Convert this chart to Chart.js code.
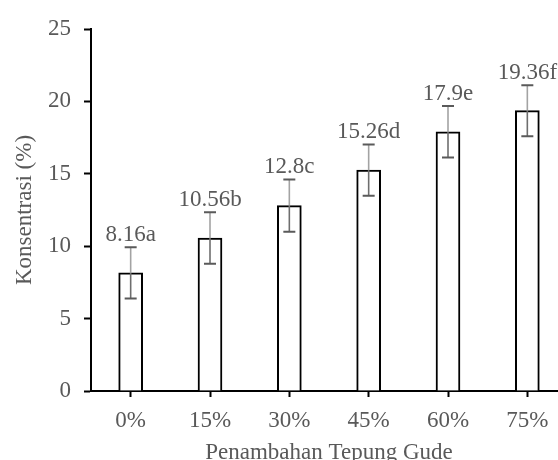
<!DOCTYPE html>
<html>
<head>
<meta charset="utf-8">
<script src="https://cdn.jsdelivr.net/npm/chart.js@4.4.1/dist/chart.umd.min.js"></script>
<style>
  html, body { margin: 0; padding: 0; background: #fff; overflow: hidden; width: 558px; height: 460px; }
  #wrap { width: 568px; height: 467px; }
</style>
</head>
<body>
<div id="wrap"><canvas id="c" width="568" height="467"></canvas></div>
<script>
// Gude flour addition levels and measured concentration
const categories = ['0%', '15%', '30%', '45%', '60%', '75%'];
const concentration = [8.16, 10.56, 12.8, 15.26, 17.9, 19.36];
const stdError = [1.77, 1.78, 1.80, 1.77, 1.78, 1.76];
const letters = ['a', 'b', 'c', 'd', 'e', 'f'];
const yTicks = [0, 5, 10, 15, 20, 25];

const FONT = 'Liberation Serif, Times New Roman, serif';
const TEXT = '#595959';

// Error bars (with caps) plus value/letter labels above each bar
const errorBarPlugin = {
  id: 'errorBars',
  afterDatasetsDraw(chart) {
    const ctx = chart.ctx;
    const meta = chart.getDatasetMeta(0);
    const y = chart.scales.y;
    ctx.save();
    meta.data.forEach((bar, i) => {
      const v = concentration[i];
      const e = stdError[i];
      const x = bar.x;
      const yTop = y.getPixelForValue(v + e);
      const yBot = y.getPixelForValue(v - e);
      const yVal = y.getPixelForValue(v);
      ctx.lineWidth = 1.6;
      ctx.strokeStyle = '#a3a3a3';
      ctx.beginPath(); ctx.moveTo(x, yTop); ctx.lineTo(x, yVal); ctx.stroke();
      ctx.strokeStyle = '#6e6e6e';
      ctx.beginPath(); ctx.moveTo(x, yVal); ctx.lineTo(x, yBot); ctx.stroke();
      ctx.lineWidth = 2;
      ctx.strokeStyle = '#5a5a5a';
      ctx.beginPath();
      ctx.moveTo(x - 6, yTop); ctx.lineTo(x + 6, yTop);
      ctx.moveTo(x - 6, yBot); ctx.lineTo(x + 6, yBot);
      ctx.stroke();

      ctx.fillStyle = TEXT;
      ctx.font = '23px ' + FONT;
      ctx.textAlign = 'center';
      ctx.textBaseline = 'bottom';
      ctx.fillText(String(v) + letters[i], x, yTop - 1);
    });
    ctx.restore();
  }
};

new Chart(document.getElementById('c'), {
  type: 'bar',
  data: {
    labels: categories,
    datasets: [{
      data: concentration,
      backgroundColor: '#ffffff',
      borderColor: '#000000',
      borderWidth: 2,
      barThickness: 24
    }]
  },
  options: {
    responsive: false,
    animation: false,
    devicePixelRatio: 1,
    layout: { padding: { top: 29, right: 1, left: 0, bottom: 0 } },
    plugins: { legend: { display: false }, tooltip: { enabled: false } },
    scales: {
      x: {
        offset: true,
        afterFit(s) { s.height = 76; },
        grid: { display: true, drawOnChartArea: false, drawTicks: true, tickLength: 6, tickWidth: 2, tickColor: '#000', offset: false },
        border: { color: '#000', width: 2 },
        ticks: { color: TEXT, font: { family: FONT, size: 23 }, padding: 10 },
        title: { display: true, text: 'Penambahan Tepung Gude', color: TEXT, font: { family: FONT, size: 23 }, padding: 0 }
      },
      y: {
        min: 0,
        max: 25,
        afterFit(s) { s.width = 91; },
        afterBuildTicks(s) { s.ticks = yTicks.map(v => ({ value: v })); },
        grid: { display: true, drawOnChartArea: false, drawTicks: true, tickLength: 7, tickWidth: 2, tickColor: '#000' },
        border: { color: '#000', width: 2 },
        ticks: { color: TEXT, font: { family: FONT, size: 23 }, padding: 13 },
        title: { display: true, text: 'Konsentrasi (%)', color: TEXT, font: { family: FONT, size: 23 }, padding: { top: 11, bottom: 0 } }
      }
    }
  },
  plugins: [errorBarPlugin]
});
</script>
</body>
</html>
